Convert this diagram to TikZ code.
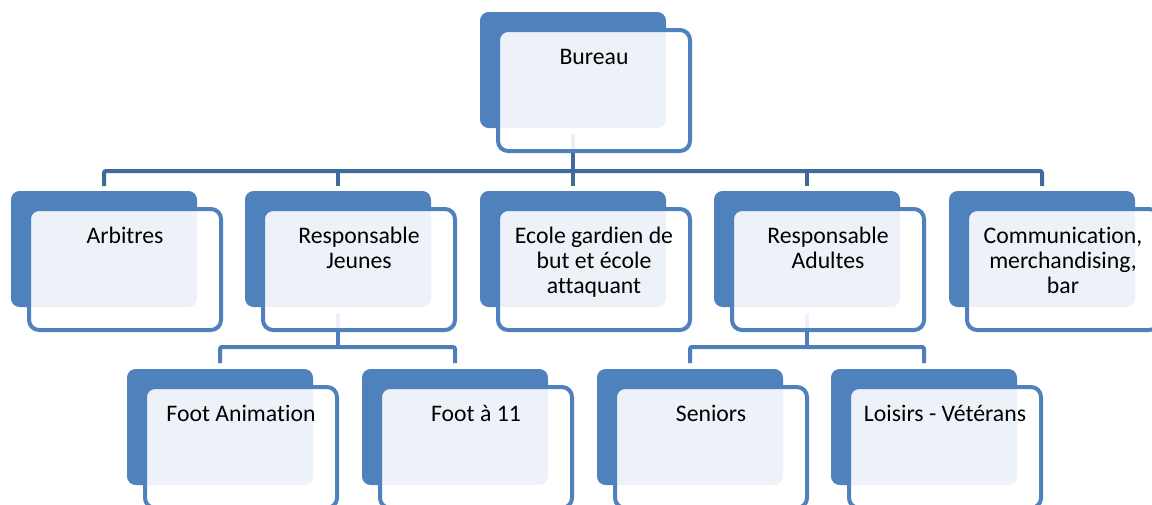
\documentclass[tikz,border=0pt]{standalone}
\usepackage{fontspec}
\setmainfont{Carlito}[Ligatures=NoCommon]
\usetikzlibrary{backgrounds,calc}
\definecolor{boxblue}{RGB}{79,129,189}
\definecolor{busdark}{RGB}{63,106,158}
\definecolor{bussub}{RGB}{76,126,187}
\tikzset{
  backbox/.style={fill=boxblue, rounded corners=6.5pt, minimum width=139.5pt, minimum height=87pt, inner sep=0pt, outer sep=0pt, anchor=north west},
  frontbox/.style={draw=boxblue, line width=3pt, fill=white, fill opacity=0.9, rounded corners=7.5pt, minimum width=144pt, minimum height=90.75pt, inner sep=0pt, outer sep=0pt, anchor=north west},
  lbl/.style={anchor=base, inner sep=0pt, font=\fontsize{17.8}{19.1}\selectfont},
  topconn/.style={draw=busdark, line width=3pt, rounded corners=1.5pt},
  subconn/.style={draw=bussub, line width=3pt, rounded corners=1.5pt}
}
\newcommand\orgbox[4]{%
  \node[backbox] (#1B) at (#2,#3) {};
  \node[frontbox] (#1F) at (#2+18,#3+18) {};
  \node[lbl] (#1T) at (#2+114,#3+52) {\begin{tabular}[t]{@{}c@{}}#4\end{tabular}};
}
\begin{document}
\begin{tikzpicture}[x=0.75pt,y=-0.75pt]
  \useasboundingbox (0,0) rectangle (1152,504);
  % top level
  \orgbox{bur}{480}{12}{Bureau}
  % second level
  \orgbox{arb}{11}{191}{Arbitres}
  \orgbox{jeu}{245}{191}{Responsable\\Jeunes}
  \orgbox{eco}{480}{191}{Ecole gardien de\\but et école\\attaquant}
  \orgbox{adu}{714}{191}{Responsable\\Adultes}
  \orgbox{com}{949}{191}{Communication,\\merchandising,\\bar}
  % third level
  \orgbox{fan}{127}{369}{Foot Animation}
  \orgbox{fon}{362}{369}{Foot à 11}
  \orgbox{sen}{597}{369}{Seniors}
  \orgbox{loi}{831}{369}{Loisirs - Vétérans}
  % connectors
  \begin{scope}[on background layer]
    \coordinate (busA) at (0,171);
    \coordinate (busJ) at (0,347);
    \coordinate (busD) at (0,347);
    \draw[topconn] ($(burB.south)+(0,6)$) -- (burB.south |- busA);
    \draw[topconn] ($(arbB.north)+(0,-5)$) -- (arbB.north |- busA) -- (comB.north |- busA) -- ($(comB.north)+(0,-5)$);
    \foreach \n in {jeu,eco,adu}{
      \draw[topconn] ($(\n B.north)+(0,-5)$) -- (\n B.north |- busA);
    }
    \draw[subconn] ($(jeuB.south)+(0,6)$) -- (jeuB.south |- busJ);
    \draw[subconn] ($(fanB.north)+(0,-6)$) -- (fanB.north |- busJ) -- (fonB.north |- busJ) -- ($(fonB.north)+(0,-6)$);
    \draw[subconn] ($(aduB.south)+(0,6)$) -- (aduB.south |- busD);
    \draw[subconn] ($(senB.north)+(0,-6)$) -- (senB.north |- busD) -- (loiB.north |- busD) -- ($(loiB.north)+(0,-6)$);
  \end{scope}
\end{tikzpicture}
\end{document}
